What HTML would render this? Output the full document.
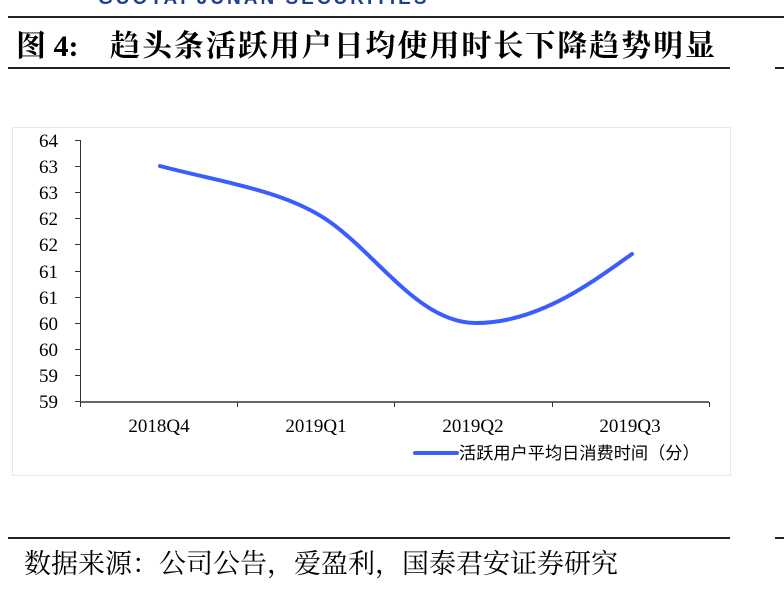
<!DOCTYPE html>
<html><head><meta charset="utf-8"><style>
html,body{margin:0;padding:0;background:#fff;}
</style></head><body>
<svg width="784" height="592" xmlns="http://www.w3.org/2000/svg" style="display:block">
<rect width="784" height="592" fill="#fff"/>
<text x="98" y="4" font-family="Liberation Sans, sans-serif" font-weight="bold" font-size="19" fill="#1f3f8f" letter-spacing="3">GUOTAI JUNAN SECURITIES</text>
<rect x="8" y="16" width="776" height="2" fill="#222"/>
<text x="16" y="56" font-family="Liberation Serif, 'Noto Serif CJK SC', serif" font-weight="bold" font-size="30" fill="#000">图 4:</text>
<text x="110" y="56" font-family="Liberation Serif, 'Noto Serif CJK SC', serif" font-weight="bold" font-size="30" fill="#000" textLength="605" lengthAdjust="spacing">趋头条活跃用户日均使用时长下降趋势明显</text>
<rect x="8" y="67" width="722" height="2" fill="#222"/>
<rect x="775" y="67" width="9" height="2" fill="#222"/>
<rect x="12.5" y="127.5" width="718" height="348" fill="#fff" stroke="#e8e8e8"/>
<g font-family="Liberation Serif, serif" font-size="19" fill="#000" text-anchor="end">
<text x="58" y="147">64</text><text x="58" y="173">63</text><text x="58" y="199">63</text><text x="58" y="225">62</text><text x="58" y="251">62</text><text x="58" y="278">61</text><text x="58" y="304">61</text><text x="58" y="330">60</text><text x="58" y="356">60</text><text x="58" y="382">59</text><text x="58" y="408">59</text>
</g>
<g stroke="#333" stroke-width="1">
<line x1="80.5" y1="140" x2="80.5" y2="402"/>
<line x1="75" y1="140.5" x2="80" y2="140.5"/><line x1="75" y1="166.5" x2="80" y2="166.5"/><line x1="75" y1="192.5" x2="80" y2="192.5"/><line x1="75" y1="218.5" x2="80" y2="218.5"/><line x1="75" y1="244.5" x2="80" y2="244.5"/><line x1="75" y1="271.5" x2="80" y2="271.5"/><line x1="75" y1="297.5" x2="80" y2="297.5"/><line x1="75" y1="323.5" x2="80" y2="323.5"/><line x1="75" y1="349.5" x2="80" y2="349.5"/><line x1="75" y1="375.5" x2="80" y2="375.5"/><line x1="75" y1="401.5" x2="80" y2="401.5"/>
<line x1="80" y1="402" x2="709" y2="402" stroke-width="1.5"/>
<line x1="80.5" y1="402" x2="80.5" y2="407"/><line x1="237.5" y1="402" x2="237.5" y2="407"/><line x1="394.5" y1="402" x2="394.5" y2="407"/><line x1="552.5" y1="402" x2="552.5" y2="407"/><line x1="709.5" y1="402" x2="709.5" y2="407"/>
</g>
<g font-family="Liberation Serif, serif" font-size="19" fill="#000" text-anchor="middle">
<text x="159" y="432">2018Q4</text><text x="316" y="432">2019Q1</text><text x="473" y="432">2019Q2</text><text x="630" y="432">2019Q3</text>
</g>
<path d="M160,166 C220,182 285,190 330,222 C380,258 420,323 476,323 C540,323 595,280 632,254" fill="none" stroke="#3b5cff" stroke-width="4" stroke-linecap="round"/>
<line x1="415" y1="453" x2="457" y2="453" stroke="#3b5cff" stroke-width="4" stroke-linecap="round"/>
<text x="459" y="459" font-family="Liberation Sans, 'Noto Sans CJK SC', sans-serif" font-size="17.2" fill="#000">活跃用户平均日消费时间（分）</text>
<rect x="8" y="537" width="722" height="2" fill="#222"/>
<rect x="775" y="537" width="9" height="2" fill="#222"/>
<text x="24" y="573" font-family="Liberation Serif, 'Noto Serif CJK SC', serif" font-size="27" fill="#000">数据来源：公司公告，爱盈利，国泰君安证券研究</text>
</svg>
</body></html>
